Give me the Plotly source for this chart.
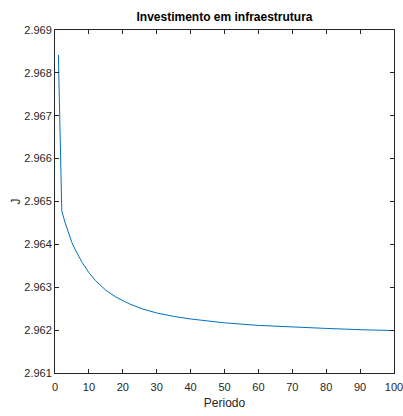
import plotly.graph_objects as go

# Periods and objective value J over the horizon
periodo = [1, 2, 3, 4, 5, 6, 7, 8, 10, 12, 15, 18, 22, 26, 30, 35, 40,
           45, 50, 60, 70, 80, 90, 100]
j_valor = [2.96842, 2.96478, 2.96450, 2.96425, 2.96404, 2.96387, 2.96372,
           2.96358, 2.96334, 2.96315, 2.96293, 2.96277, 2.96261, 2.96249,
           2.96240, 2.96232, 2.96226, 2.96221, 2.96217, 2.96211, 2.96207,
           2.96204, 2.96201, 2.96199]

x_ticks = [0, 10, 20, 30, 40, 50, 60, 70, 80, 90, 100]
y_ticks = [2.961, 2.962, 2.963, 2.964, 2.965, 2.966, 2.967, 2.968, 2.969]

axis_color = "#262626"
font_family = "Liberation Sans, Arial, sans-serif"

W, H = 403, 416
M_L, M_R, M_T, M_B = 55, 9, 30, 43

fig = go.Figure()
fig.add_trace(go.Scatter(
    x=periodo, y=j_valor, mode="lines",
    line=dict(color="#0072BD", width=1),
    showlegend=False,
))

common_axis = dict(
    showline=True, linecolor=axis_color, linewidth=1, mirror="ticks",
    ticks="inside", ticklen=4, tickcolor=axis_color, tickwidth=1,
    showgrid=False, zeroline=False, ticklabeloverflow="allow",
    automargin=False,
    tickfont=dict(family=font_family, size=11, color=axis_color),
)

fig.update_layout(
    width=W, height=H,
    margin=dict(l=M_L, r=M_R, t=M_T, b=M_B),
    paper_bgcolor="white", plot_bgcolor="white",
    title=dict(
        text="<b>Investimento em infraestrutura</b>",
        x=(M_L + W - M_R) / 2 / W, xanchor="center",
        y=1 - 17 / H, yanchor="middle",
        font=dict(family=font_family, size=12, color="black"),
    ),
    xaxis=dict(
        range=[0, 100], tickvals=x_ticks,
        ticktext=[str(t) for t in x_ticks],
        ticklabelstandoff=4,
        title=dict(text="Periodo", standoff=6,
                   font=dict(family=font_family, size=12, color=axis_color)),
        **common_axis,
    ),
    yaxis=dict(
        range=[2.961, 2.969], tickvals=y_ticks,
        ticktext=[f"{t:.3f}" for t in y_ticks],
        **common_axis,
    ),
)

# Vertical y-axis label placed just left of the tick labels
fig.add_annotation(
    text="J", textangle=-90, showarrow=False,
    xref="paper", yref="paper",
    x=-(M_L - 15) / (W - M_L - M_R), xanchor="center",
    y=0.5, yanchor="middle",
    font=dict(family=font_family, size=12, color=axis_color),
)

fig.write_html("out.html")
